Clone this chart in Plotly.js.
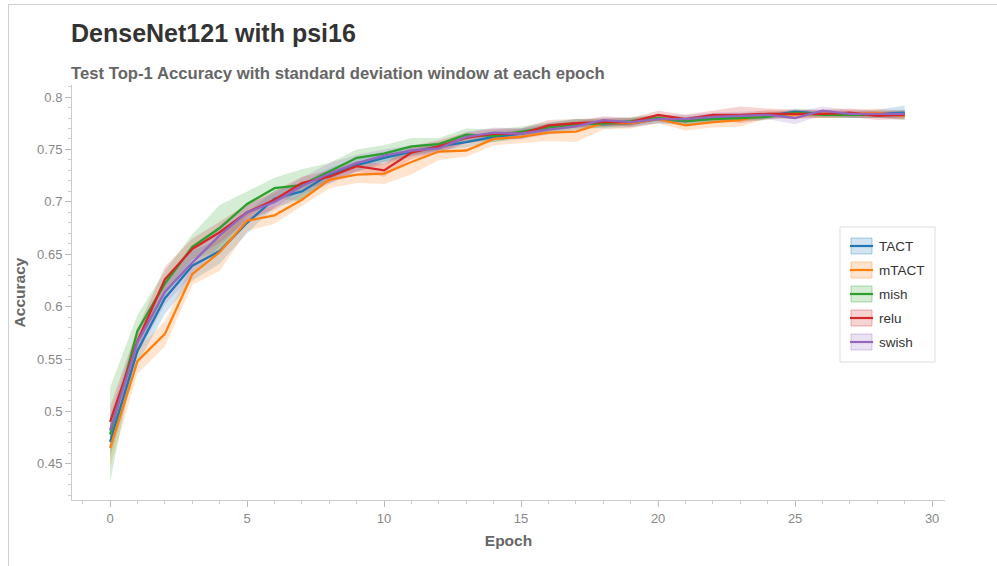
<!DOCTYPE html>
<html>
<head>
<meta charset="utf-8">
<script src="https://cdn.plot.ly/plotly-3.0.1.min.js"></script>
<style>
  html, body { margin: 0; padding: 0; background: #fff; }
  #frame { position: absolute; left: 8px; top: 4px; width: 989px; height: 562px;
           border-left: 1px solid #d0d0d0; border-top: 1px solid #d0d0d0; box-sizing: border-box; }
  #chart { position: absolute; left: 0; top: 0; width: 997px; height: 566px; }
</style>
</head>
<body>
<div id="frame"></div>
<div id="chart"></div>
<script>
// ---- data ----
const epochs = [0,1,2,3,4,5,6,7,8,9,10,11,12,13,14,15,16,17,18,19,20,21,22,23,24,25,26,27,28,29];

const seriesNames = ["TACT", "mTACT", "mish", "relu", "swish"];
const seriesColors = ["#1f77b4", "#ff7f0e", "#2ca02c", "#d62728", "#9467bd"];

const tactMean  = [0.471,0.558,0.608,0.639,0.653,0.680,0.703,0.710,0.726,0.735,0.742,0.748,0.753,0.757,0.762,0.765,0.771,0.775,0.774,0.775,0.779,0.777,0.780,0.781,0.782,0.786,0.784,0.783,0.784,0.785];
const mtactMean = [0.465,0.548,0.574,0.631,0.652,0.682,0.687,0.702,0.721,0.726,0.727,0.738,0.748,0.749,0.760,0.762,0.766,0.767,0.775,0.775,0.779,0.773,0.776,0.778,0.784,0.783,0.784,0.784,0.785,0.782];
const mishMean  = [0.478,0.577,0.622,0.657,0.675,0.698,0.713,0.716,0.729,0.742,0.746,0.753,0.755,0.764,0.763,0.767,0.771,0.774,0.775,0.777,0.780,0.777,0.779,0.780,0.781,0.785,0.783,0.783,0.783,0.784];
const reluMean  = [0.490,0.567,0.626,0.655,0.671,0.690,0.702,0.718,0.724,0.734,0.730,0.747,0.753,0.761,0.765,0.765,0.773,0.775,0.776,0.776,0.783,0.779,0.783,0.783,0.784,0.784,0.784,0.785,0.782,0.783];
const swishMean = [0.482,0.566,0.614,0.642,0.668,0.690,0.700,0.715,0.727,0.737,0.744,0.749,0.751,0.762,0.766,0.765,0.769,0.772,0.778,0.776,0.779,0.779,0.781,0.782,0.783,0.780,0.787,0.784,0.784,0.784];

const tactStd  = [0.015,0.012,0.015,0.014,0.012,0.010,0.008,0.008,0.006,0.006,0.006,0.005,0.004,0.005,0.005,0.005,0.004,0.004,0.004,0.004,0.004,0.004,0.004,0.003,0.003,0.003,0.003,0.003,0.004,0.007];
const mtactStd = [0.018,0.012,0.012,0.010,0.018,0.010,0.008,0.006,0.008,0.008,0.010,0.012,0.008,0.006,0.006,0.006,0.008,0.010,0.006,0.005,0.004,0.005,0.005,0.006,0.004,0.004,0.004,0.004,0.004,0.004];
const mishStd  = [0.045,0.015,0.012,0.012,0.022,0.012,0.010,0.015,0.008,0.008,0.008,0.008,0.006,0.006,0.006,0.005,0.005,0.005,0.004,0.004,0.003,0.004,0.004,0.003,0.003,0.003,0.003,0.003,0.003,0.004];
const reluStd  = [0.015,0.012,0.012,0.010,0.010,0.008,0.008,0.006,0.006,0.005,0.006,0.006,0.006,0.005,0.005,0.005,0.005,0.004,0.004,0.004,0.004,0.004,0.004,0.008,0.005,0.004,0.004,0.004,0.004,0.004];
const swishStd = [0.015,0.012,0.012,0.012,0.010,0.008,0.008,0.008,0.010,0.008,0.006,0.005,0.005,0.005,0.005,0.005,0.005,0.004,0.004,0.004,0.004,0.004,0.004,0.004,0.004,0.006,0.004,0.004,0.004,0.004];

const means = [tactMean, mtactMean, mishMean, reluMean, swishMean];
const stds  = [tactStd, mtactStd, mishStd, reluStd, swishStd];

// ---- helpers ----
function rgba(hex, a) {
  const n = parseInt(hex.slice(1), 16);
  return `rgba(${(n >> 16) & 255},${(n >> 8) & 255},${n & 255},${a})`;
}

const FONT = "Liberation Sans, Arial, sans-serif";
const W = 997, H = 566;
const M = { l: 72, r: 52, t: 85, b: 66 };
const PW = W - M.l - M.r, PH = H - M.t - M.b;
const px2x = p => (p - M.l) / PW;
const px2y = p => (H - M.b - p) / PH;

// ---- traces ----
const traces = [];
seriesNames.forEach((name, i) => {
  const m = means[i], s = stds[i];
  const upper = m.map((v, k) => v + s[k]);
  const lower = m.map((v, k) => v - s[k]);
  traces.push({
    x: epochs.concat(epochs.slice().reverse()),
    y: upper.concat(lower.slice().reverse()),
    type: "scatter", mode: "lines", fill: "toself",
    fillcolor: rgba(seriesColors[i], 0.2),
    line: { width: 0, color: "rgba(0,0,0,0)" },
    hoverinfo: "skip", showlegend: false
  });
});
seriesNames.forEach((name, i) => {
  traces.push({
    x: epochs, y: means[i], name: name,
    type: "scatter", mode: "lines",
    line: { color: seriesColors[i], width: 2.3 },
    showlegend: false
  });
});

// ---- custom legend (layout decoration) ----
const shapes = [];
const annotations = [];
shapes.push({ type: "rect", xref: "paper", yref: "paper",
  x0: px2x(840), x1: px2x(935), y0: px2y(362), y1: px2y(227),
  fillcolor: "#ffffff", line: { color: "#dddddd", width: 1 }, layer: "above" });
const rowY = [246, 270, 294, 318, 342];
seriesNames.forEach((name, i) => {
  const cy = rowY[i];
  shapes.push({ type: "rect", xref: "paper", yref: "paper",
    x0: px2x(851), x1: px2x(872), y0: px2y(cy + 8), y1: px2y(cy - 8),
    fillcolor: rgba(seriesColors[i], 0.2), line: { color: rgba(seriesColors[i], 0.35), width: 1 }, layer: "above" });
  shapes.push({ type: "line", xref: "paper", yref: "paper",
    x0: px2x(850), x1: px2x(873), y0: px2y(cy), y1: px2y(cy),
    line: { color: seriesColors[i], width: 2.2 }, layer: "above" });
  annotations.push({ xref: "paper", yref: "paper", x: px2x(877), y: px2y(cy),
    xanchor: "left", yanchor: "middle", showarrow: false, text: name,
    font: { family: FONT, size: 13.5, color: "#333" } });
});

annotations.push({ xref: "paper", yref: "paper", x: px2x(69), y: px2y(73),
  xanchor: "left", yanchor: "middle", showarrow: false,
  text: "<b>Test Top-1 Accuracy with standard deviation window at each epoch</b>",
  font: { family: FONT, size: 16.7, color: "#666" } });

const layout = {
  width: W, height: H,
  margin: M,
  paper_bgcolor: "rgba(0,0,0,0)", plot_bgcolor: "rgba(0,0,0,0)",
  title: { text: "<b>DenseNet121 with psi16</b>", xref: "container", yref: "container",
    x: 71 / W, xanchor: "left", y: 1 - 33 / H, yanchor: "middle",
    font: { family: FONT, size: 25, color: "#333" } },
  xaxis: {
    range: [-1.39, 30.47], tickmode: "linear", tick0: 0, dtick: 5,
    ticks: "outside", ticklen: 6, tickcolor: "#bbb", tickwidth: 1,
    minor: { dtick: 1, ticks: "outside", ticklen: 3, tickcolor: "#ccc", showgrid: false },
    showline: true, linecolor: "#ccc", linewidth: 1, showgrid: false, zeroline: false,
    tickfont: { family: FONT, size: 13, color: "#888" },
    title: { text: "<b>Epoch</b>", standoff: 10,
      font: { family: FONT, size: 15.5, color: "#666" } }
  },
  yaxis: {
    range: [0.4155, 0.8115], tickmode: "linear", tick0: 0.45, dtick: 0.05,
    ticks: "outside", ticklen: 6, tickcolor: "#bbb", tickwidth: 1,
    minor: { dtick: 0.01, ticks: "outside", ticklen: 3, tickcolor: "#ccc", showgrid: false },
    showline: true, linecolor: "#ccc", linewidth: 1, showgrid: false, zeroline: false,
    tickfont: { family: FONT, size: 13, color: "#888" },
    title: { text: "<b>Accuracy</b>", standoff: 7,
      font: { family: FONT, size: 15.5, color: "#666" } }
  },
  showlegend: false,
  shapes: shapes,
  annotations: annotations
};

Plotly.newPlot("chart", traces, layout, { displayModeBar: false, staticPlot: true });
</script>
</body>
</html>
